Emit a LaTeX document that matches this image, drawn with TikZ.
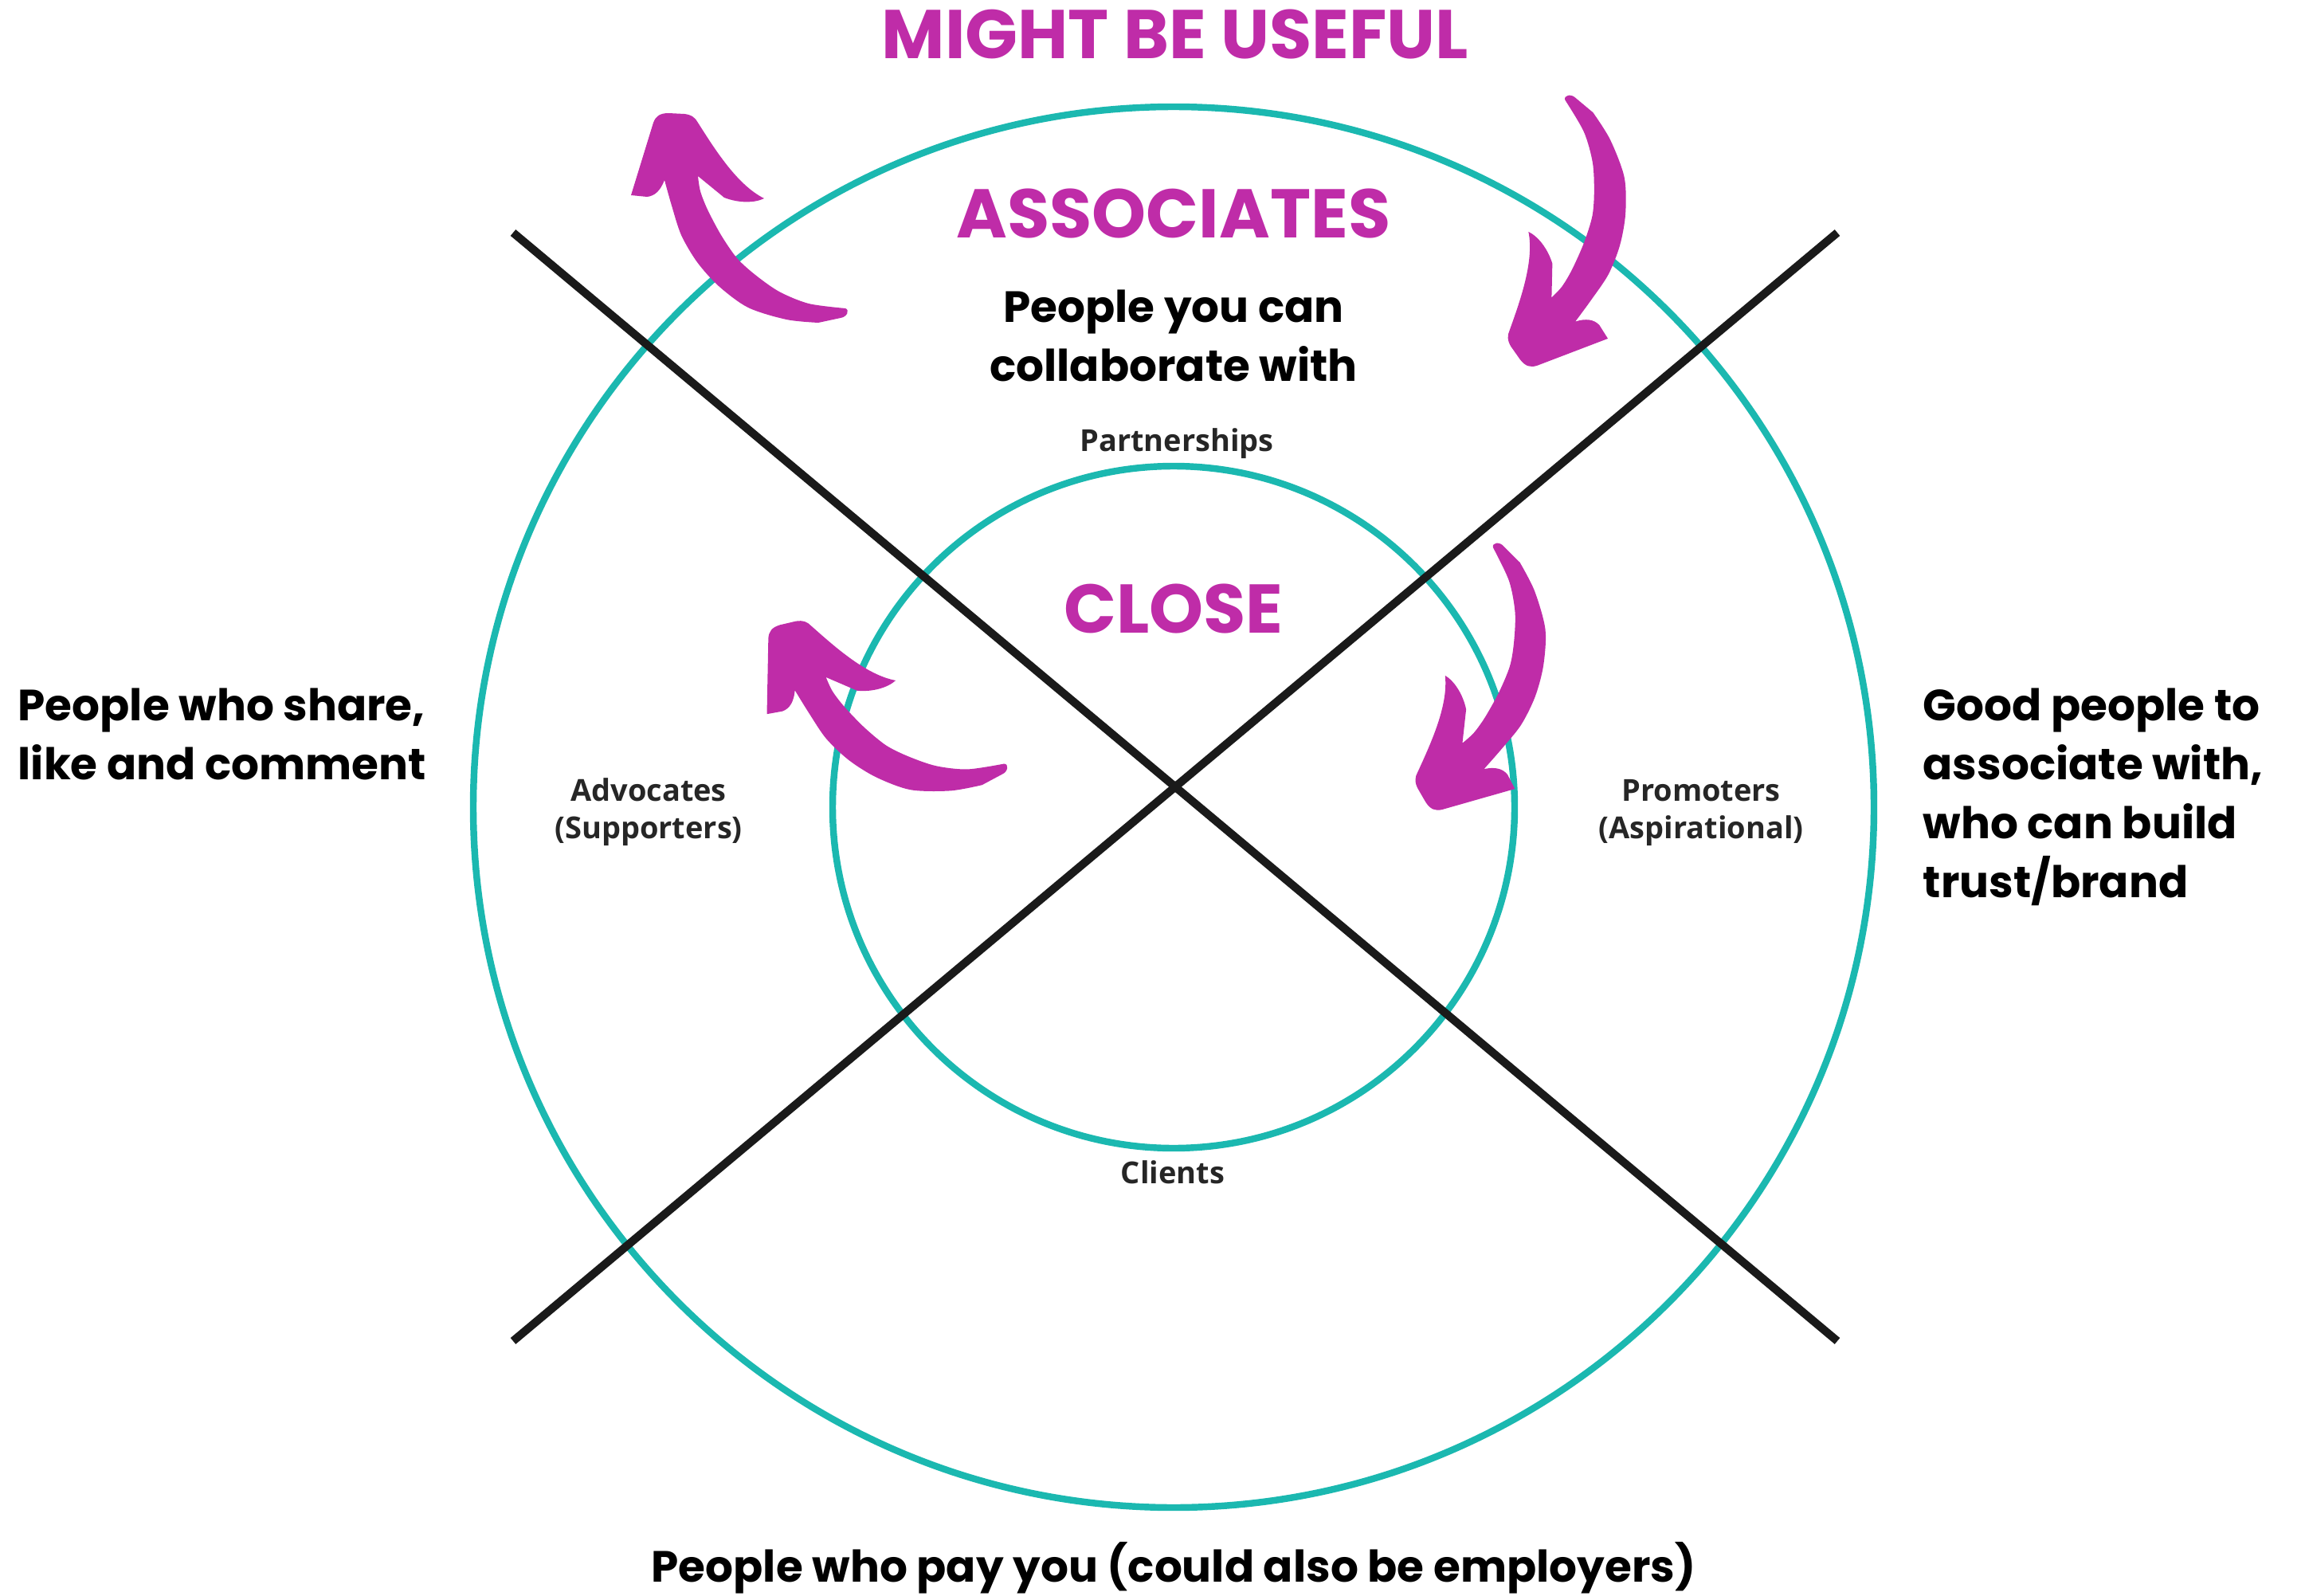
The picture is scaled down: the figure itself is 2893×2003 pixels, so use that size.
\documentclass[tikz,border=0pt]{standalone}
\usepackage{fontspec}
\setmainfont{Poppins}
\newfontfamily\labelfont{Open Sans}

\definecolor{ringteal}{RGB}{27,184,176}
\definecolor{accent}{RGB}{191,44,168}
\definecolor{crossline}{RGB}{26,26,26}

% curved brush arrow, tip of the head at the origin, pointing up
\tikzset{
  swoosh/.pic={
    \fill[accent] (-27,12) .. controls (-24,4) and (-19,0) .. (-8,0)
      -- (12,1) .. controls (21,2) and (26,6) .. (29,12)
      .. controls (50,45) and (78,90) .. (112,107)
      .. controls (100,113) and (80,113) .. (62,106)
      -- plot[smooth] coordinates {(29,79) (32,98) (41,121) (58,153) (78,182) (101,203) (131,224) (168,239) (214,245)}
      .. controls (220,247) and (216,256) .. (208,257)
      -- plot[smooth] coordinates {(180,263) (140,259) (92,244) (55,217) (28,187) (8,153) (-4,116) (-13,84)}
      .. controls (-18,97) and (-25,104) .. (-35,105)
      -- (-55,103) -- cycle;
  }
}

\begin{document}
\begin{tikzpicture}[
  x=0.01cm, y=-0.01cm,
  ring/.style={draw=ringteal, line width=2.4pt},
  cross/.style={draw=crossline, line width=2.9pt},
  heading/.style={font=\bfseries\fontsize{24.6}{29}\selectfont, text=accent, inner sep=0pt},
  caption/.style={font=\bfseries\fontsize{15.6}{21}\selectfont, align=center, inner sep=0pt},
  tag/.style={font=\labelfont\bfseries\fontsize{10.8}{13.1}\selectfont, text=black!85, align=center, inner sep=0pt}
]
\useasboundingbox (0,0) rectangle (2893,2003);

% Rings
\coordinate (centre) at (1473,1013);
\draw[ring] (centre) circle (879);
\draw[ring] (centre) circle (428);

% Crossing diagonals
\coordinate (nw) at (644,292);
\coordinate (se) at (2306,1683);
\coordinate (sw) at (644,1683);
\coordinate (ne) at (2306,292);
\draw[cross] (nw) -- (se);
\draw[cross] (sw) -- (ne);

% Headings
\node[heading, anchor=base] (useful) at (1475,74) {MIGHT BE USEFUL};
\node[heading, anchor=base] (associates) at (1473,298) {ASSOCIATES};
\node[heading, anchor=base] (close) at (1473,794) {CLOSE};

% Descriptions (base = last line)
\node[caption, anchor=base] (collab) at (1473,478) {People you can\\collaborate with};
\node[caption, anchor=base west, align=left] (share) at (22,978) {People who share,\\like and comment};
\node[caption, anchor=base west, align=left] (trust) at (2413,1126) {Good people to\\associate with,\\who can build\\trust/brand};
\node[caption, anchor=base] (pay) at (1473,1985) {People who pay you (could also be employers)};

% Segment labels
\node[tag, anchor=base] (partners) at (1477,566) {Partnerships};
\node[tag, anchor=base] (advocates) at (814,1052) {Advocates\\(Supporters)};
\node[tag, anchor=base] (promoters) at (2135,1052) {Promoters\\(Aspirational)};
\node[tag, anchor=base] (clients) at (1472,1485) {Clients};

% Arrows
\pic at (847,142) {swoosh};
\pic[rotate=128] at (1903,445) {swoosh};
\pic[rotate=16] at (987,782) {swoosh};
\pic[rotate=123] at (1785,1000) {swoosh};

\end{tikzpicture}
\end{document}
